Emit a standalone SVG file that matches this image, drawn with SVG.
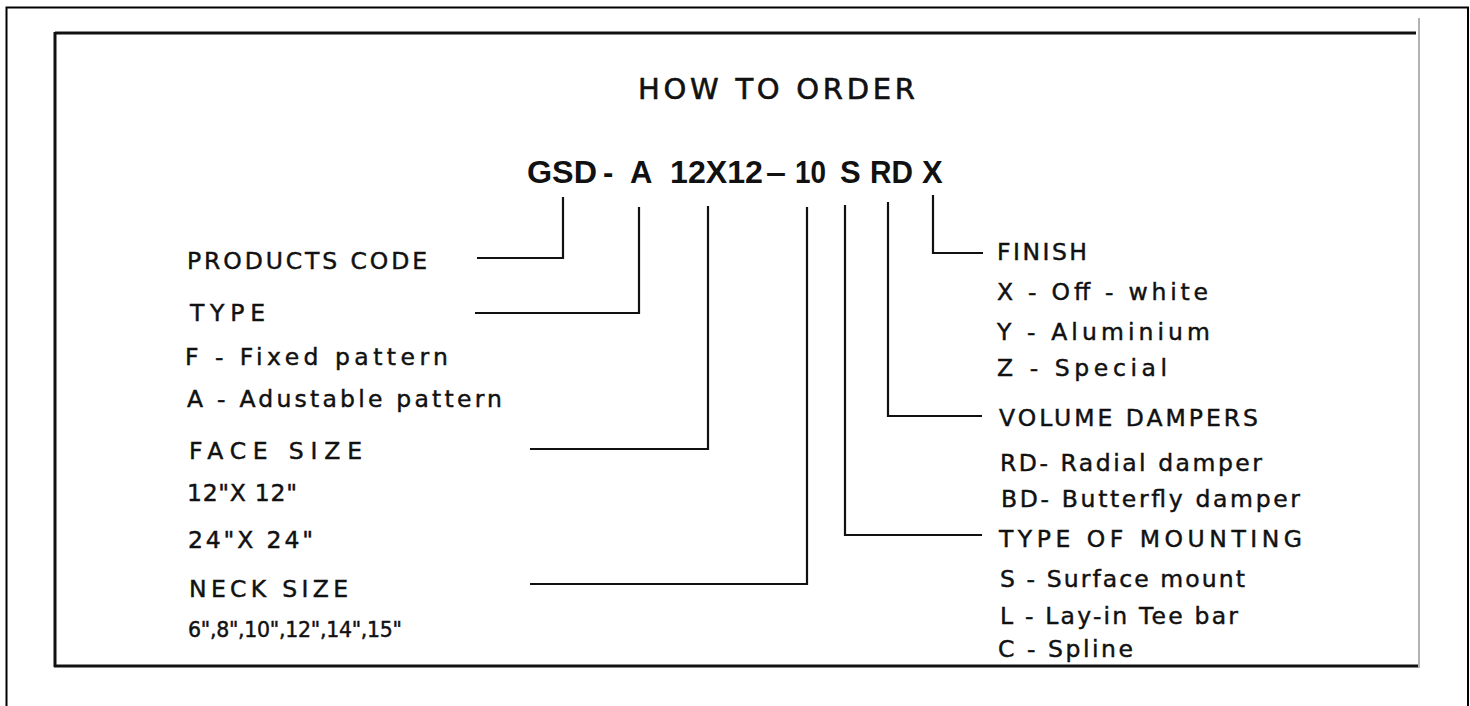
<svg xmlns="http://www.w3.org/2000/svg" width="1470" height="706" viewBox="0 0 1470 706">
<style>
  .lbl { font-family: "DejaVu Sans", "Liberation Sans", sans-serif; font-size: 23.5px; fill: #111; stroke: #111; stroke-width: 0.45; }
  .ttl { font-family: "DejaVu Sans", "Liberation Sans", sans-serif; font-size: 29px; fill: #111; stroke: #111; stroke-width: 0.6; }
  .code { font-family: "Liberation Sans", "DejaVu Sans", sans-serif; font-size: 31px; font-weight: bold; fill: #111; }
  .con { fill: none; stroke: #111; stroke-width: 2.2; }
  .box { stroke: #111; stroke-width: 3; }
</style>
<rect x="0" y="0" width="1470" height="706" fill="#fff"/>
<rect x="6.5" y="7.5" width="1461.5" height="710" fill="none" stroke="#000" stroke-width="2"/>
<g id="frame">
  <line class="box" x1="55" y1="33" x2="1416" y2="33"/>
  <line class="box" x1="55" y1="32" x2="55" y2="667"/>
  <line class="box" x1="54" y1="666" x2="1418" y2="666"/>
  <line x1="1419" y1="18" x2="1419" y2="668" stroke="#999" stroke-width="1.5"/>
</g>
<g id="title">
  <text class="ttl" x="638" y="99" textLength="277" lengthAdjust="spacing">HOW TO ORDER</text>
</g>
<g id="code">
  <text class="code" x="527" y="183" textLength="70" lengthAdjust="spacingAndGlyphs">GSD</text>
  <text class="code" x="603" y="183">-</text>
  <text class="code" x="630" y="183">A</text>
  <text class="code" x="670" y="183" textLength="93" lengthAdjust="spacingAndGlyphs">12X12</text>
  <text class="code" x="766" y="183" textLength="20" lengthAdjust="spacingAndGlyphs">–</text>
  <text class="code" x="795" y="183" textLength="31" lengthAdjust="spacingAndGlyphs">10</text>
  <text class="code" x="840" y="183">S</text>
  <text class="code" x="870" y="183" textLength="43" lengthAdjust="spacingAndGlyphs">RD</text>
  <text class="code" x="922" y="183">X</text>
</g>
<g id="connectors">
  <polyline class="con" points="563,197 563,258 477,258"/>
  <polyline class="con" points="639,207 639,313 475,313"/>
  <polyline class="con" points="708,206 708,449 530,449"/>
  <polyline class="con" points="807,207 807,584 530,584"/>
  <polyline class="con" points="845,205 845,535 982,535"/>
  <polyline class="con" points="888,202 888,416 982,416"/>
  <polyline class="con" points="933,195 933,253 983,253"/>
</g>
<g id="products-code">
  <text class="lbl" x="187" y="269" textLength="240" lengthAdjust="spacing">PRODUCTS CODE</text>
</g>
<g id="type">
  <text class="lbl" x="190" y="321" textLength="75" lengthAdjust="spacing">TYPE</text>
  <text class="lbl" x="185" y="365" textLength="263" lengthAdjust="spacing">F - Fixed pattern</text>
  <text class="lbl" x="187" y="407" textLength="315" lengthAdjust="spacing">A - Adustable pattern</text>
</g>
<g id="face-size">
  <text class="lbl" x="189" y="459" textLength="173" lengthAdjust="spacing">FACE SIZE</text>
  <text class="lbl" x="187" y="501" textLength="110" lengthAdjust="spacing">12"X 12"</text>
  <text class="lbl" x="188" y="548" textLength="125" lengthAdjust="spacing">24"X 24"</text>
</g>
<g id="neck-size">
  <text class="lbl" x="189" y="597" textLength="159" lengthAdjust="spacing">NECK SIZE</text>
  <text class="lbl" x="188" y="637" style="font-size:20.5px" textLength="214" lengthAdjust="spacing">6",8",10",12",14",15"</text>
</g>
<g id="finish">
  <text class="lbl" x="997" y="260" textLength="90" lengthAdjust="spacing">FINISH</text>
  <text class="lbl" x="997" y="300" textLength="211" lengthAdjust="spacing">X - Off - white</text>
  <text class="lbl" x="997" y="340" textLength="213" lengthAdjust="spacing">Y - Aluminium</text>
  <text class="lbl" x="997" y="376" textLength="170" lengthAdjust="spacing">Z - Special</text>
</g>
<g id="volume-dampers">
  <text class="lbl" x="999" y="426" textLength="259" lengthAdjust="spacing">VOLUME DAMPERS</text>
  <text class="lbl" x="1000" y="471" textLength="262" lengthAdjust="spacing">RD- Radial damper</text>
  <text class="lbl" x="1001" y="507" textLength="299" lengthAdjust="spacing">BD- Butterfly damper</text>
</g>
<g id="type-of-mounting">
  <text class="lbl" x="999" y="547" textLength="303" lengthAdjust="spacing">TYPE OF MOUNTING</text>
  <text class="lbl" x="1000" y="587" textLength="245" lengthAdjust="spacing">S - Surface mount</text>
  <text class="lbl" x="1000" y="624" textLength="238" lengthAdjust="spacing">L - Lay-in Tee bar</text>
  <text class="lbl" x="998" y="657" textLength="135" lengthAdjust="spacing">C - Spline</text>
</g>
</svg>
